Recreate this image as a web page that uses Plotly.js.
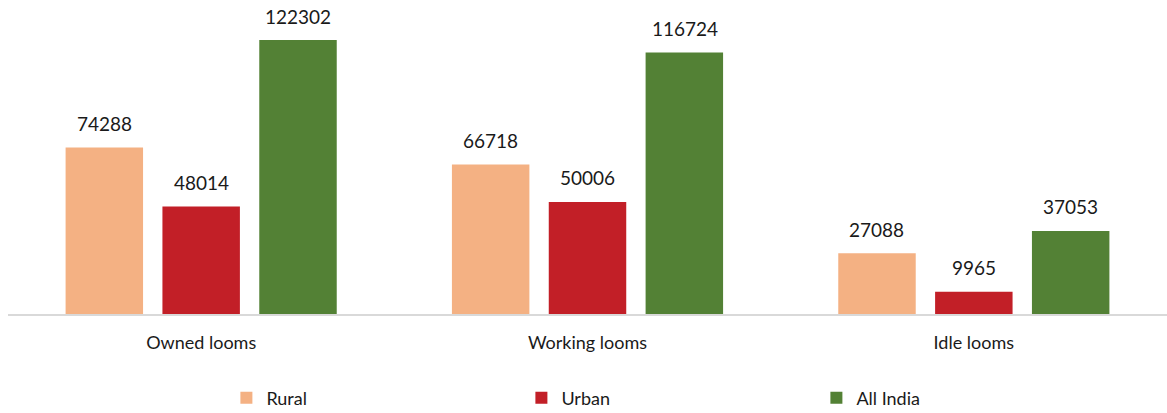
<!DOCTYPE html>
<html><head><meta charset="utf-8">
<script src="https://cdn.plot.ly/plotly-3.0.1.min.js"></script>
<style>html,body{margin:0;padding:0;background:#fff}#chart{width:1167px;height:413px}</style>
</head><body><div id="chart"></div>
<script>
var categories = ["Owned looms", "Working looms", "Idle looms"];
var rural = [74288, 66718, 27088];
var urban = [48014, 50006, 9965];
var allIndia = [122302, 116724, 37053];
var seriesNames = ["Rural", "Urban", "All India"];
var colors = ["#F4B183", "#C21F27", "#538135"];
var seriesData = [rural, urban, allIndia];
var labelShift = [-97, 0, 97];

var traces = seriesData.map(function(vals, i){
  return {
    type: "bar", name: seriesNames[i], x: categories, y: vals,
    marker: {color: colors[i]}, hoverinfo: "none"
  };
});

var annotations = [];
seriesData.forEach(function(vals, i){
  vals.forEach(function(v, j){
    annotations.push({
      x: categories[j], y: v, xref: "x", yref: "y", text: String(v),
      showarrow: false, xshift: labelShift[i], yshift: 24, yanchor: "middle",
      font: {family: "Lato, 'Open Sans', sans-serif", size: 19, color: "#1a1a1a"}
    });
  });
});

var layout = {
  width: 1167, height: 413,
  margin: {l: 8, r: 0, t: 10, b: 99},
  barmode: "group", bargap: 0.248, bargroupgap: 0.2,
  paper_bgcolor: "#fff", plot_bgcolor: "#fff",
  font: {family: "Lato, 'Open Sans', sans-serif", color: "#1a1a1a"},
  xaxis: {showline: true, linecolor: "#d9d9d9", linewidth: 2, ticks: "",
          tickfont: {size: 18}, ticklabelstandoff: 11, fixedrange: true},
  yaxis: {visible: false, range: [0, 135700], showgrid: false, zeroline: false, fixedrange: true},
  annotations: annotations,
  showlegend: true,
  legend: {orientation: "h", xref: "container", yref: "container",
           x: 0.194, y: 0.036, xanchor: "left", yanchor: "middle",
           entrywidth: 250, entrywidthmode: "pixels", itemwidth: 30,
           font: {size: 18}, traceorder: "normal"}
};
Plotly.newPlot("chart", traces, layout, {staticPlot: true, displayModeBar: false});
</script></body></html>
